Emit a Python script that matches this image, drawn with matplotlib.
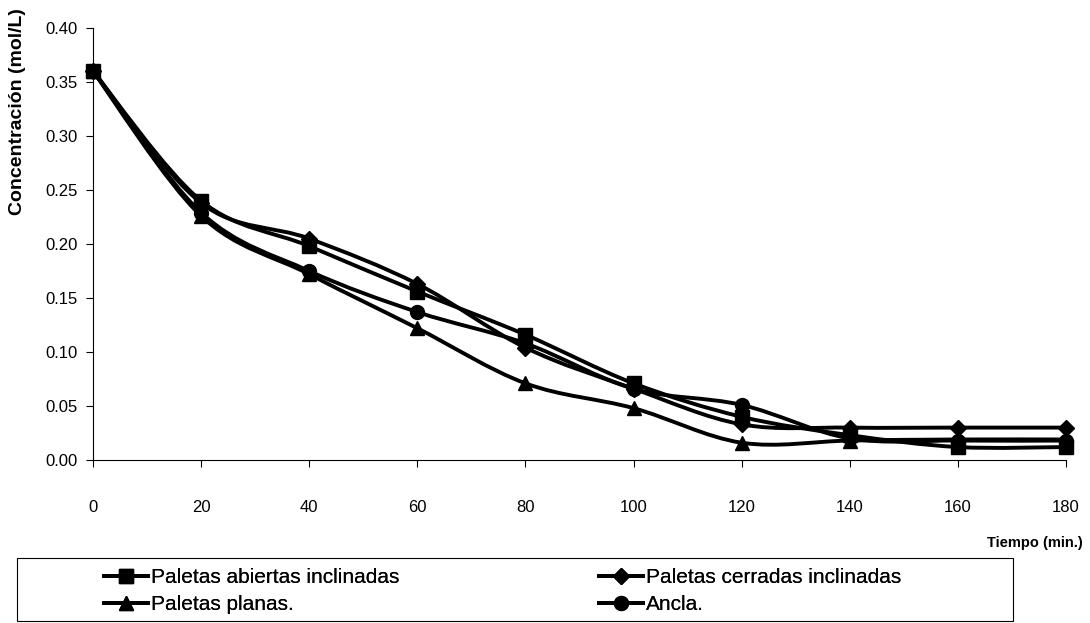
import matplotlib.pyplot as plt
import numpy as np
from matplotlib.path import Path
from matplotlib.patches import PathPatch, Rectangle
from matplotlib.lines import Line2D

plt.rcParams["font.family"] = ["Liberation Sans", "DejaVu Sans"]

tiempo = [0, 20, 40, 60, 80, 100, 120, 140, 160, 180]
abiertas = [0.360, 0.240, 0.198, 0.156, 0.116, 0.071, 0.040, 0.023, 0.012, 0.012]
cerradas = [0.360, 0.238, 0.205, 0.163, 0.104, 0.066, 0.033, 0.030, 0.030, 0.030]
planas = [0.360, 0.226, 0.172, 0.122, 0.071, 0.048, 0.016, 0.018, 0.019, 0.019]
ancla = [0.360, 0.229, 0.175, 0.137, 0.108, 0.066, 0.051, 0.020, 0.018, 0.018]

series = [
    ("Paletas abiertas inclinadas", abiertas, "s", 10),
    ("Paletas cerradas inclinadas", cerradas, "D", 8),
    ("Paletas planas.", planas, "^", 10),
    ("Ancla.", ancla, "o", 10),
]


def smooth_path(x, y):
    # Excel-style smoothed line: Catmull-Rom segments as cubic Bezier
    pts = np.column_stack([x, y]).astype(float)
    ext = np.vstack([pts[0], pts, pts[-1]])
    verts = [pts[0]]
    codes = [Path.MOVETO]
    for i in range(len(pts) - 1):
        p0, p1, p2, p3 = ext[i], ext[i + 1], ext[i + 2], ext[i + 3]
        verts += [p1 + (p2 - p0) / 6, p2 - (p3 - p1) / 6, p2]
        codes += [Path.CURVE4] * 3
    return Path(verts, codes)


fig = plt.figure(figsize=(10.9, 6.23), dpi=100)
ax = fig.add_axes([93 / 1090, 163 / 623, 973 / 1090, 432 / 623])

handles = {}
for label, vals, marker, ms in series:
    ax.add_patch(PathPatch(smooth_path(tiempo, vals), fill=False,
                           edgecolor="black", lw=2.8, zorder=2))
    ax.plot(tiempo, vals, linestyle="none", marker=marker, ms=ms,
            color="black", zorder=3, clip_on=False)
    handles[label] = Line2D([], [], color="black", lw=2.8, marker=marker,
                            ms=ms, label=label)

ax.set_xlim(0, 180)
ax.set_ylim(0, 0.40)
ax.set_xticks(np.arange(0, 181, 20))
ax.set_yticks(np.arange(0, 0.401, 0.05))
ax.set_yticklabels([f"{v:.2f}" for v in np.arange(0, 0.401, 0.05)])
ax.spines["top"].set_visible(False)
ax.spines["right"].set_visible(False)
ax.tick_params(axis="y", direction="out", length=5, labelsize=12, pad=6)
ax.tick_params(axis="x", direction="out", length=5, labelsize=12, pad=24)

fig.text(18 / 1090, 1 - 112 / 623, "Concentración (mol/L)", rotation=90,
         ha="center", va="center", fontsize=14, fontweight="bold")
fig.text(1083 / 1090, 1 - 543 / 623, "Tiempo (min.)", ha="right",
         va="center", fontsize=10.5, fontweight="bold")

# legend frame and two columns
fig.add_artist(Rectangle((17 / 1090, 2 / 623), 996 / 1090, 63 / 623,
                         transform=fig.transFigure, fill=False,
                         edgecolor="black", lw=0.8))
columns = [
    (["Paletas abiertas inclinadas", "Paletas planas."], 104),
    (["Paletas cerradas inclinadas", "Ancla."], 599),
]
for names, xpos in columns:
    leg = fig.legend(handles=[handles[n] for n in names], loc="upper left",
                     bbox_to_anchor=(xpos / 1090, 1 - 568 / 623),
                     frameon=False, fontsize=15, numpoints=1,
                     handlelength=2.1, handletextpad=0.15, borderpad=0,
                     labelspacing=0.38, borderaxespad=0)
    fig.add_artist(leg)

fig.savefig("out.png", dpi=100)
